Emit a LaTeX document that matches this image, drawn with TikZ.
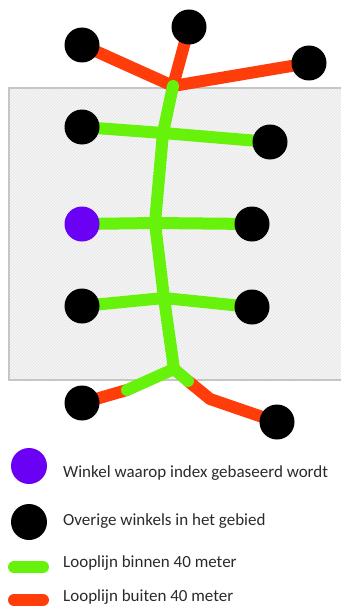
\documentclass[tikz,border=0pt]{standalone}
\usepackage{fontspec}
\setmainfont{Carlito}
\usetikzlibrary{patterns,backgrounds}
\definecolor{lgreen}{HTML}{66F20A}
\definecolor{lred}{HTML}{FF3D0A}
\definecolor{lpurple}{HTML}{6A00F4}
\definecolor{txt}{HTML}{2A2A2A}
\tikzset{
  shop/.style={circle,fill=black,minimum size=35pt,inner sep=0pt},
  target/.style={circle,fill=lpurple,minimum size=35pt,inner sep=0pt},
  near/.style={draw=lgreen,line width=12pt,line cap=round,line join=round},
  far/.style={draw=lred,line width=12pt,line cap=round,line join=round},
  legtext/.style={anchor=west,text=txt,font=\fontsize{17}{20}\selectfont,inner sep=0pt},
}
\begin{document}
\begin{tikzpicture}[x=1pt,y=-1pt]
\useasboundingbox (0,0) rectangle (340,610);
% shops
\node[shop] (t1) at (82,45) {};
\node[shop] (t2) at (189,27) {};
\node[shop] (t3) at (309,63) {};
\node[shop] (r1l) at (82,127) {};
\node[shop] (r1r) at (270,142) {};
\node[target] (r2l) at (82,224) {};
\node[shop] (r2r) at (252,224) {};
\node[shop] (r3l) at (82,306) {};
\node[shop] (r3r) at (252,307) {};
\node[shop] (b1) at (82,403) {};
\node[shop] (b2) at (277,422) {};
% junctions
\coordinate (jt) at (173,86);
\coordinate (j1) at (163,133);
\coordinate (j2) at (155,223);
\coordinate (j3) at (164,298);
\coordinate (jb) at (174,369);
\coordinate (bl) at (127,390);
\coordinate (br) at (188,381);
\coordinate (bk) at (210,399);
\begin{scope}[on background layer]
  \fill[gray!7] (9,88) rectangle (345,380);
  \fill[pattern=north east lines,pattern color=gray!22] (9,88) rectangle (345,380);
  \draw[gray!45,line width=2.5pt] (345,88) -- (9,88) -- (9,380) -- (345,380);
  % red lines
  \draw[far] (t1.center) -- (jt) -- (t3.center);
  \draw[far] (t2.center) -- (jt);
  \draw[far] (b1.center) -- (bl);
  \draw[far] (br) -- (bk) -- (b2.center);
  % green lines
  \draw[near] (jt) -- (j1) -- (j2) -- (j3) -- (jb);
  \draw[near] (r1l.center) -- (j1) -- (r1r.center);
  \draw[near] (r2l.center) -- (j2) -- (r2r.center);
  \draw[near] (r3l.center) -- (j3) -- (r3r.center);
  \draw[near] (bl) -- (jb) -- (br);
\end{scope}
% legend
\node[target,minimum size=36pt] (lp) at (29,466) {};
\node[legtext] (lpt) at (63,473) {Winkel waarop index gebaseerd wordt};
\node[shop,minimum size=36pt] (lb) at (29,522) {};
\node[legtext] (lbt) at (63,521) {Overige winkels in het gebied};
\coordinate (lg1) at (14,567);
\coordinate (lg2) at (43,567);
\draw[near] (lg1) -- (lg2);
\node[legtext] (lgt) at (63,563) {Looplijn binnen 40 meter};
\coordinate (lr1) at (14,600);
\coordinate (lr2) at (43,600);
\draw[far] (lr1) -- (lr2);
\node[legtext] (lrt) at (63,597) {Looplijn buiten 40 meter};
\end{tikzpicture}
\end{document}
